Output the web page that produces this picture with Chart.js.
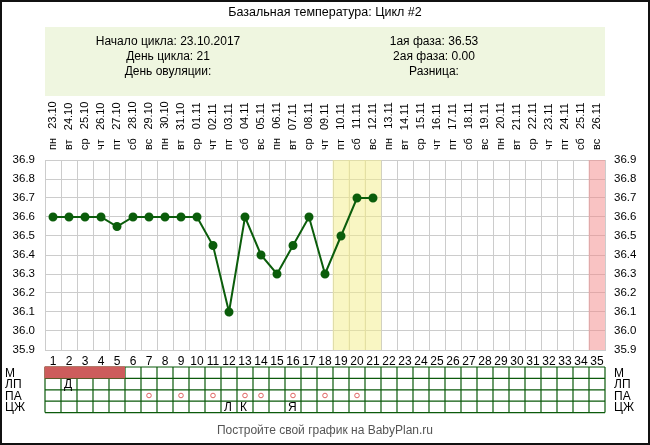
<!DOCTYPE html>
<html>
<head>
<meta charset="utf-8">
<script src="https://cdn.jsdelivr.net/npm/chart.js@4"></script>
<style>
  body { margin: 0; background: #fff; }
  canvas { display: block; }
</style>
</head>
<body>
<canvas id="bbtChart" width="650" height="445"></canvas>
<script>
// дни цикла и даты
const days = ['1','2','3','4','5','6','7','8','9','10','11','12','13','14','15','16','17','18','19','20','21','22','23','24','25','26','27','28','29','30','31','32','33','34','35'];
const dates = ['пн   23.10','вт   24.10','ср   25.10','чт   26.10','пт   27.10','сб   28.10','вс   29.10','пн   30.10','вт   31.10','ср   01.11','чт   02.11','пт   03.11','сб   04.11','вс   05.11','пн   06.11','вт   07.11','ср   08.11','чт   09.11','пт   10.11','сб   11.11','вс   12.11','пн   13.11','вт   14.11','ср   15.11','чт   16.11','пт   17.11','сб   18.11','вс   19.11','пн   20.11','вт   21.11','ср   22.11','чт   23.11','пт   24.11','сб   25.11','вс   26.11'];
const temps = [36.6, 36.6, 36.6, 36.6, 36.55, 36.6, 36.6, 36.6, 36.6, 36.6, 36.45, 36.1, 36.6, 36.4, 36.3, 36.45, 36.6, 36.3, 36.5, 36.7, 36.7];
const yTicks = ['35.9','36.0','36.1','36.2','36.3','36.4','36.5','36.6','36.7','36.8','36.9'];

// подсветка колонок
const yellowDays = ['19','20','21'];
const pinkDays = ['35'];

// таблица под графиком
const rowNames = ['М', 'ЛП', 'ПА', 'ЦЖ'];
const mensDays = ['1','2','3','4','5'];
const lpMarks = { '2': 'Д' };
const paDays = ['7','9','11','13','14','16','18','20'];
const czhMarks = { '12': 'Л', '13': 'К', '16': 'Я' };

const FONT = 'Arial, "Liberation Sans", sans-serif';
const green = '#0b5d0b';

const bandData = days.map(d => (yellowDays.includes(d) || pinkDays.includes(d)) ? [35.9, 36.9] : null);
const bandColors = days.map(d => pinkDays.includes(d) ? 'rgba(243,135,135,0.5)' : 'rgba(243,237,135,0.5)');

const decor = {
  id: 'decor',
  beforeDraw(chart) {
    const c = chart.ctx;
    c.save();
    c.fillStyle = '#fff';
    c.fillRect(0, 0, chart.width, chart.height);
    // зелёная плашка
    c.fillStyle = '#eff6e0';
    c.fillRect(45, 27, 560, 69);
    c.fillStyle = '#000';
    c.font = '12.5px ' + FONT;
    c.textAlign = 'center';
    c.textBaseline = 'middle';
    c.fillText('Базальная температура: Цикл #2', 325, 13);
    c.font = '12px ' + FONT;
    c.fillText('Начало цикла: 23.10.2017', 168, 42);
    c.fillText('День цикла: 21', 168, 57);
    c.fillText('День овуляции:', 168, 72);
    c.fillText('1ая фаза: 36.53', 434, 42);
    c.fillText('2ая фаза: 0.00', 434, 57);
    c.fillText('Разница:', 434, 72);
    c.restore();
  },
  afterDraw(chart) {
    const c = chart.ctx;
    const x = chart.scales.x;
    const half = (x.getPixelForValue(1) - x.getPixelForValue(0)) / 2;
    const left = x.getPixelForValue(0) - half;
    const right = x.getPixelForValue(days.length - 1) + half;
    const top = 367, rowH = 11.4;
    c.save();
    // сетка таблицы
    c.strokeStyle = '#0b5a0b';
    c.lineWidth = 1.2;
    c.beginPath();
    for (let r = 0; r <= rowNames.length; r++) {
      c.moveTo(left, top + r * rowH);
      c.lineTo(right, top + r * rowH);
    }
    for (let i = 0; i <= days.length; i++) {
      const px = left + i * half * 2;
      c.moveTo(px, top);
      c.lineTo(px, top + rowNames.length * rowH);
    }
    c.stroke();
    // месячные поверх сетки
    c.fillStyle = '#cd5c5c';
    const m0 = x.getPixelForValue(days.indexOf(mensDays[0])) - half;
    const m1 = x.getPixelForValue(days.indexOf(mensDays[mensDays.length - 1])) + half;
    c.fillRect(m0 - 0.6, top - 0.6, m1 - m0 + 0.6, rowH + 0.6);
    // подписи строк
    c.fillStyle = '#000';
    c.font = '12px ' + FONT;
    c.textBaseline = 'middle';
    c.textAlign = 'left';
    rowNames.forEach((n, r) => {
      c.fillText(n, 5, top + r * rowH + rowH / 2 + 1);
      c.fillText(n, 614, top + r * rowH + rowH / 2 + 1);
    });
    // отметки в ячейках
    const letters = (marks, r) => {
      Object.keys(marks).forEach(d => {
        const cx = x.getPixelForValue(days.indexOf(d));
        c.fillText(marks[d], cx - half + 3, top + r * rowH + rowH / 2 + 1);
      });
    };
    letters(lpMarks, 1);
    letters(czhMarks, 3);
    c.strokeStyle = '#e06464';
    c.lineWidth = 1;
    paDays.forEach(d => {
      const cx = x.getPixelForValue(days.indexOf(d));
      c.beginPath();
      c.arc(cx, top + 2 * rowH + rowH / 2, 2.3, 0, Math.PI * 2);
      c.stroke();
    });
    // подвал
    c.fillStyle = '#555';
    c.textAlign = 'center';
    c.font = '12px ' + FONT;
    c.fillText('Постройте свой график на BabyPlan.ru', 325, 431);
    // рамка
    c.strokeStyle = '#111';
    c.lineWidth = 2;
    c.strokeRect(1, 1, chart.width - 2, chart.height - 2);
    c.restore();
  }
};

const yScale = (pos, pad) => ({
  type: 'linear',
  position: pos,
  min: 35.9,
  max: 36.9,
  afterBuildTicks: s => { s.ticks = yTicks.map(v => ({ value: parseFloat(v) })); },
  afterFit: s => { s.width = 45; },
  grid: { display: pos === 'left', color: '#cccccc', drawTicks: false },
  border: { display: false },
  ticks: {
    padding: pad,
    color: '#000',
    font: { family: FONT, size: 11.5 },
    callback: v => v.toFixed(1)
  }
});

new Chart(document.getElementById('bbtChart'), {
  type: 'line',
  data: {
    labels: days,
    datasets: [{
      data: temps,
      borderColor: green,
      backgroundColor: green,
      borderWidth: 2,
      tension: 0,
      pointRadius: 3.5,
      pointBackgroundColor: green,
      pointBorderColor: green,
      order: 0
    }, {
      type: 'bar',
      data: bandData,
      backgroundColor: bandColors,
      barPercentage: 1,
      categoryPercentage: 1,
      order: 1
    }]
  },
  options: {
    responsive: false,
    animation: false,
    devicePixelRatio: 1,
    layout: { padding: 0 },
    plugins: { legend: { display: false }, tooltip: { enabled: false } },
    scales: {
      x: {
        position: 'bottom',
        offset: true,
        afterFit: s => { s.height = 95; },
        grid: { color: '#cccccc', offset: true, drawTicks: false },
        border: { color: '#cccccc' },
        ticks: { padding: 4, color: '#000', font: { family: FONT, size: 12 }, maxRotation: 0, autoSkip: false }
      },
      x2: {
        type: 'category',
        position: 'top',
        labels: dates,
        offset: true,
        afterFit: s => { s.height = 160; },
        grid: { display: false, drawTicks: false },
        border: { display: false },
        ticks: { padding: 10, labelOffset: 13, color: '#000', font: { family: FONT, size: 11 }, minRotation: 90, maxRotation: 90, autoSkip: false }
      },
      y: yScale('left', 10),
      y2: yScale('right', 9)
    }
  },
  plugins: [decor]
});
</script>
</body>
</html>
